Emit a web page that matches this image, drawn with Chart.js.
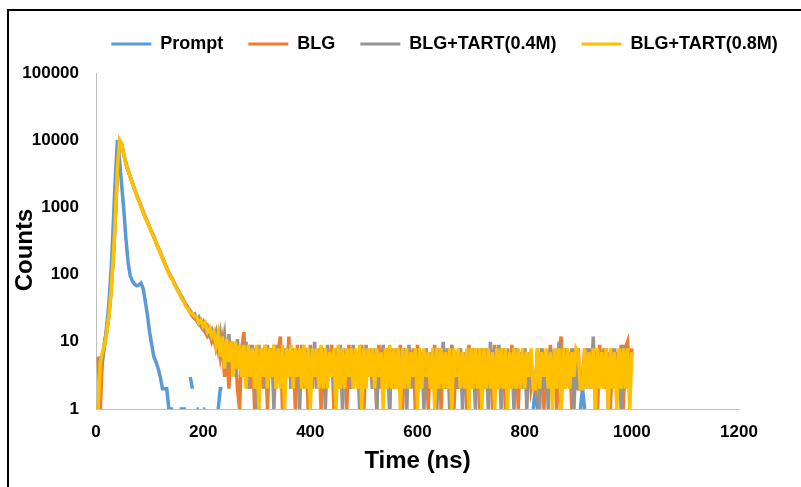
<!DOCTYPE html>
<html>
<head>
<meta charset="utf-8">
<title>Fluorescence decay</title>
<script src="https://cdn.jsdelivr.net/npm/chart.js@4.4.1/dist/chart.umd.min.js"></script>
<style>
  html, body { margin: 0; padding: 0; background: #ffffff; }
  canvas { display: block; }
</style>
</head>
<body>
<canvas id="decay" width="801" height="487"></canvas>
<script>
// TCSPC histograms: one count per 4 ns channel, channel 0 starts at t = 0.
// A count of 0 cannot sit on the log axis and is left as a gap.
const CHANNEL_WIDTH_NS = 4;

const seriesNames = ['Prompt', 'BLG', 'BLG+TART(0.4M)', 'BLG+TART(0.8M)'];

const promptCounts = [
  0, 1, 3, 5, 9, 17, 38, 110, 500, 2700,
  10000, 5000, 2100, 900, 330, 150, 95, 80, 72, 68,
  70, 75, 62, 40, 25, 14, 9, 6, 5, 4,
  3, 2, 2, 2, 1, 1, 1, 0, 0, 1,
  1, 1, 1, 0, 3, 2, 0, 1, 1, 0,
  1, 1, 0, 0, 0, 0, 0, 1, 2, 2,
  0, 0, 0, 0, 0, 0, 0, 0, 0, 0,
  0, 0, 0, 0, 0, 0, 0, 0, 0, 0,
  0, 0, 0, 0, 0, 0, 0, 0, 0, 0,
  0, 0, 0, 0, 0, 0, 0, 0, 0, 0,
  0, 0, 0, 0, 0, 0, 0, 0, 0, 0,
  0, 0, 0, 0, 0, 0, 0, 0, 0, 0,
  0, 0, 0, 0, 0, 0, 0, 0, 0, 0,
  0, 0, 0, 0, 0, 0, 0, 0, 0, 0,
  0, 0, 0, 0, 0, 0, 0, 0, 0, 0,
  0, 0, 0, 0, 0, 0, 0, 0, 0, 0,
  0, 0, 0, 0, 0, 0, 0, 0, 0, 0,
  0, 0, 0, 0, 0, 0, 0, 0, 0, 0,
  0, 0, 0, 0, 0, 0, 0, 0, 0, 0,
  0, 0, 0, 0, 0, 0, 0, 0, 0, 0,
  0, 0, 0, 0, 1, 2, 1, 0, 0, 0,
  0, 0, 0, 0, 0, 0, 0, 0, 0, 0,
  0, 0, 0, 0, 0, 0, 1, 2, 1, 0,
  0, 0, 0, 0, 0, 0, 0, 0, 0, 0,
  0, 0, 0, 0, 0, 0, 0, 0, 0, 0,
  0
];

const blgCounts = [
  0, 6, 1, 6, 9, 14, 24, 56, 168, 660,
  3850, 9850, 8650, 6050, 4450, 3520, 2820, 2270, 1860, 1510,
  1260, 1040, 855, 710, 605, 505, 425, 362, 302, 252,
  212, 177, 149, 124, 105, 91, 81, 69, 59, 52,
  45, 40, 34, 31, 27, 24, 22, 21, 18, 17,
  15, 14, 12, 13, 10, 12, 8, 11, 6, 10,
  3, 9, 2, 10, 4, 8, 2, 1, 8, 14,
  3, 8, 2, 9, 1, 8, 3, 7, 2, 9,
  1, 8, 3, 9, 2, 7, 12, 1, 8, 3,
  12, 2, 8, 1, 9, 3, 7, 2, 8, 1,
  9, 2, 7, 3, 8, 1, 8, 2, 7, 3,
  9, 1, 7, 2, 8, 3, 7, 1, 9, 2,
  8, 3, 7, 2, 9, 1, 7, 3, 8, 2,
  7, 1, 9, 2, 8, 3, 7, 1, 8, 2,
  7, 3, 9, 1, 8, 2, 7, 3, 8, 1,
  9, 2, 7, 3, 8, 1, 7, 2, 9, 3,
  8, 1, 7, 2, 8, 3, 9, 1, 7, 2,
  8, 3, 7, 1, 9, 2, 8, 3, 7, 1,
  8, 2, 7, 3, 8, 1, 9, 2, 7, 3,
  8, 1, 7, 2, 9, 3, 8, 1, 7, 2,
  8, 3, 7, 2, 3, 2, 7, 2, 8, 1,
  7, 3, 9, 2, 8, 1, 7, 12, 2, 8,
  3, 7, 1, 8, 2, 8, 2, 2, 3, 8,
  3, 8, 2, 7, 1, 9, 3, 8, 2, 7,
  1, 8, 3, 7, 2, 9, 1, 8, 10, 3,
  8
];

const tart04Counts = [
  0, 6, 5, 6, 10, 15, 25, 58, 170, 680,
  3900, 9800, 8700, 6100, 4500, 3550, 2850, 2300, 1880, 1520,
  1270, 1050, 860, 720, 610, 510, 430, 365, 305, 255,
  215, 180, 150, 126, 107, 93, 82, 70, 61, 53,
  47, 41, 36, 32, 29, 25, 26, 21, 23, 18,
  20, 15, 17, 13, 15, 11, 14, 8, 13, 7,
  12, 4, 13, 5, 10, 3, 11, 4, 9, 3,
  10, 2, 9, 4, 8, 1, 9, 3, 8, 2,
  9, 3, 8, 1, 9, 4, 7, 2, 8, 3,
  9, 2, 8, 3, 7, 1, 9, 3, 8, 2,
  8, 3, 10, 2, 7, 4, 8, 1, 9, 3,
  7, 2, 8, 3, 9, 1, 8, 3, 7, 2,
  9, 3, 7, 1, 8, 2, 9, 3, 7, 2,
  8, 1, 7, 3, 9, 2, 8, 1, 7, 3,
  8, 2, 7, 3, 8, 1, 9, 2, 7, 3,
  8, 2, 7, 1, 8, 3, 7, 2, 8, 1,
  7, 3, 10, 2, 8, 1, 9, 3, 7, 2,
  8, 1, 7, 3, 8, 2, 7, 1, 8, 3,
  7, 2, 8, 1, 10, 3, 8, 2, 9, 1,
  7, 3, 8, 2, 7, 1, 8, 3, 7, 2,
  8, 1, 7, 3, 2, 2, 8, 1, 8, 2,
  7, 1, 8, 3, 7, 2, 10, 1, 8, 2,
  7, 3, 8, 1, 7, 2, 2, 3, 8, 2,
  8, 2, 12, 1, 8, 3, 7, 2, 8, 1,
  7, 3, 8, 2, 7, 1, 9, 2, 8, 3,
  7
];

const tart08Counts = [
  0, 1, 5, 7, 9, 14, 24, 55, 165, 650,
  3800, 9900, 8600, 6000, 4400, 3500, 2800, 2250, 1850, 1500,
  1250, 1030, 850, 700, 600, 500, 420, 360, 300, 250,
  210, 175, 148, 122, 104, 90, 80, 68, 58, 52,
  44, 40, 33, 31, 27, 26, 24, 23, 19, 21,
  17, 19, 14, 16, 12, 14, 9, 13, 6, 12,
  4, 11, 5, 10, 3, 10, 4, 9, 3, 9,
  2, 9, 3, 8, 2, 9, 1, 8, 3, 9,
  2, 8, 3, 9, 2, 8, 2, 9, 1, 8,
  3, 9, 2, 8, 3, 8, 2, 9, 2, 8,
  1, 8, 3, 8, 2, 9, 2, 8, 2, 7,
  3, 8, 1, 9, 2, 8, 2, 8, 3, 8,
  2, 8, 2, 9, 1, 8, 2, 8, 3, 8,
  2, 8, 3, 7, 1, 8, 2, 9, 2, 8,
  2, 8, 1, 8, 2, 8, 2, 7, 3, 8,
  1, 8, 2, 8, 3, 7, 2, 8, 1, 8,
  2, 8, 2, 7, 2, 8, 1, 8, 3, 8,
  2, 7, 2, 8, 1, 8, 2, 8, 2, 8,
  1, 8, 2, 8, 2, 7, 1, 8, 2, 8,
  2, 8, 1, 7, 2, 8, 2, 8, 2, 8,
  2, 7, 3, 8, 2, 2, 8, 2, 7, 3,
  8, 2, 7, 1, 8, 2, 8, 1, 8, 2,
  8, 2, 7, 3, 8, 7, 2, 2, 8, 2,
  7, 2, 8, 1, 8, 2, 7, 2, 8, 1,
  8, 2, 7, 1, 8, 2, 8, 2, 8, 1,
  7
];

const xTickValues = [0, 200, 400, 600, 800, 1000, 1200];
const yTickValues = [1, 10, 100, 1000, 10000, 100000];
const xTitle = 'Time (ns)';
const yTitle = 'Counts';

const seriesColors = ['#5b9bd5', '#ed7d31', '#959595', '#ffc000'];

// ---------------------------------------------------------------------------

const FONT = 'Arial, "Liberation Sans", sans-serif';
Chart.defaults.font.family = FONT;
Chart.defaults.color = '#000000';

function toPoints(counts) {
  return counts.map((c, i) => ({ x: i * CHANNEL_WIDTH_NS, y: c > 0 ? c : null }));
}

const allCounts = [promptCounts, blgCounts, tart04Counts, tart08Counts];

// Later series are painted over earlier ones (0.8 M on top).
const datasets = allCounts.map((counts, i) => ({
  label: seriesNames[i],
  data: toPoints(counts),
  borderColor: seriesColors[i],
  backgroundColor: seriesColors[i],
  borderWidth: 3.5,
  pointRadius: 0,
  pointHoverRadius: 0,
  tension: 0,
  spanGaps: false,
  fill: false,
  order: allCounts.length - 1 - i
}));

// Legend sits centred over the plot rather than over the whole canvas.
const LEGEND_SHIFT = { x: 75, y: -10 };
// The rotated y title sits a little below the middle of the plot.
const Y_TITLE_POS = { x: 25, dy: 9 };

const pagePlugin = {
  id: 'page',
  afterLayout(chart) {
    const lg = chart.legend;
    if (lg) {
      lg.left += LEGEND_SHIFT.x;
      lg.right += LEGEND_SHIFT.x;
      lg.top += LEGEND_SHIFT.y;
      lg.bottom += LEGEND_SHIFT.y;
    }
  },
  beforeDraw(chart) {
    const ctx = chart.ctx;
    ctx.save();
    ctx.fillStyle = '#ffffff';
    ctx.fillRect(0, 0, chart.width, chart.height);
    // frame along the top and left edges
    ctx.strokeStyle = '#000000';
    ctx.lineWidth = 2;
    ctx.beginPath();
    ctx.moveTo(8, chart.height);
    ctx.lineTo(8, 10);
    ctx.lineTo(chart.width, 10);
    ctx.stroke();
    ctx.restore();
  },
  afterDraw(chart) {
    const { ctx, chartArea } = chart;
    ctx.save();
    ctx.translate(Y_TITLE_POS.x, (chartArea.top + chartArea.bottom) / 2 + Y_TITLE_POS.dy);
    ctx.rotate(-Math.PI / 2);
    ctx.font = 'bold 24px ' + FONT;
    ctx.fillStyle = '#000000';
    ctx.textAlign = 'center';
    ctx.textBaseline = 'middle';
    ctx.fillText(yTitle, 0, 0);
    ctx.restore();
  }
};

new Chart(document.getElementById('decay'), {
  type: 'line',
  data: { datasets },
  plugins: [pagePlugin],
  options: {
    responsive: false,
    animation: false,
    devicePixelRatio: 1,
    layout: { padding: { top: 20, right: 62, bottom: 0, left: 0 } },
    events: [],
    plugins: {
      tooltip: { enabled: false },
      legend: {
        position: 'top',
        labels: {
          boxWidth: 40,
          boxHeight: 3,
          padding: 25,
          color: '#000000',
          font: { family: FONT, size: 18, weight: 'bold' },
          generateLabels(chart) {
            const items = Chart.defaults.plugins.legend.labels.generateLabels(chart);
            return items
              .sort((a, b) => a.datasetIndex - b.datasetIndex)
              .map(it => Object.assign({}, it, { fillStyle: it.strokeStyle, lineWidth: 0 }));
          }
        }
      }
    },
    scales: {
      x: {
        type: 'linear',
        min: 0,
        max: 1200,
        afterBuildTicks(scale) { scale.ticks = xTickValues.map(v => ({ value: v })); },
        afterFit(scale) { scale.height = 78; },
        grid: { display: false, drawTicks: false, tickLength: 0 },
        border: { display: true, color: '#bfbfbf', width: 1 },
        ticks: {
          padding: 13,
          maxRotation: 0,
          color: '#000000',
          font: { family: FONT, size: 17, weight: 'bold' },
          callback: v => String(v)
        },
        title: {
          display: true,
          text: xTitle,
          color: '#000000',
          font: { family: FONT, size: 24, weight: 'bold' },
          padding: { top: 0, bottom: 11 }
        }
      },
      y: {
        type: 'logarithmic',
        min: 1,
        max: 100000,
        afterBuildTicks(scale) { scale.ticks = yTickValues.map(v => ({ value: v })); },
        afterFit(scale) { scale.width = 96; },
        grid: { display: false, drawTicks: false, tickLength: 0 },
        border: { display: true, color: '#bfbfbf', width: 1 },
        ticks: {
          padding: 17,
          color: '#000000',
          font: { family: FONT, size: 17, weight: 'bold' },
          callback: v => String(v)
        },
        title: { display: false, text: yTitle }
      }
    }
  }
});
</script>
</body>
</html>
